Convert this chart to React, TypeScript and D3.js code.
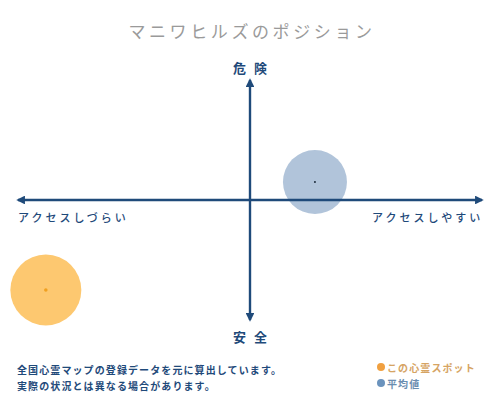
import { useEffect, useRef } from 'react';
import * as d3 from 'd3';

// chart data
const pointLabels = ['この心霊スポット', '平均値'];
const accessValues = [-88, 28]; // negative = hard to access, positive = easy
const dangerValues = [-75, 15]; // negative = safe, positive = dangerous

const titleText = 'マニワヒルズのポジション';
const axisTop = '危険';
const axisBottom = '安全';
const axisLeft = 'アクセスしづらい';
const axisRight = 'アクセスしやすい';
const noteLines = [
  '全国心霊マップの登録データを元に算出しています。',
  '実際の状況とは異なる場合があります。',
];

const FONT = '"Noto Sans CJK JP", "Noto Sans CJK SC", sans-serif';
const NAVY = '#1f4a7a';
const bubbleFill = ['#fdc870', '#b1c4da'];
const dotFill = ['#f0a020', '#1a2a3a'];
const bubbleR = [35.5, 32];
const legendFill = ['#f0a040', '#6b93bd'];
const legendText = ['#d6a463', '#6a8db0'];

export default function App() {
  const svgRef = useRef<SVGSVGElement>(null);

  useEffect(() => {
    document.body.style.margin = '0';
    if (!svgRef.current) return;

    const width = 500;
    const height = 400;
    const svg = d3.select(svgRef.current);
    svg.selectAll('*').remove();
    svg.append('rect').attr('width', width).attr('height', height).attr('fill', '#fff');

    const x = d3.scaleLinear().domain([-100, 100]).range([18, 482]);
    const y = d3.scaleLinear().domain([-100, 100]).range([320, 80]);

    const data = pointLabels.map((label, i) => ({
      label,
      access: accessValues[i],
      danger: dangerValues[i],
      i,
    }));

    // title
    svg
      .append('text')
      .attr('x', 252)
      .attr('y', 30)
      .attr('text-anchor', 'middle')
      .attr('dominant-baseline', 'central')
      .attr('font-family', FONT)
      .attr('font-size', 17)
      .attr('letter-spacing', 3.6)
      .attr('fill', '#9a9a9a')
      .text(titleText);

    // bubbles
    const pts = svg.append('g');
    pts
      .selectAll('circle.bubble')
      .data(data)
      .enter()
      .append('circle')
      .attr('class', 'bubble')
      .attr('cx', (d) => x(d.access))
      .attr('cy', (d) => y(d.danger))
      .attr('r', (d) => bubbleR[d.i])
      .attr('fill', (d) => bubbleFill[d.i]);

    // arrow marker
    const defs = svg.append('defs');
    defs
      .append('marker')
      .attr('id', 'arrow')
      .attr('viewBox', '0 0 10 10')
      .attr('refX', 8)
      .attr('refY', 5)
      .attr('markerWidth', 3.6)
      .attr('markerHeight', 3.6)
      .attr('orient', 'auto-start-reverse')
      .append('path')
      .attr('d', 'M0,0 L10,5 L0,10 Z')
      .attr('fill', NAVY);

    const axes = svg.append('g').attr('stroke', NAVY).attr('stroke-width', 2.4);
    axes
      .append('line')
      .attr('x1', x(-100))
      .attr('x2', x(100))
      .attr('y1', y(0))
      .attr('y2', y(0))
      .attr('marker-start', 'url(#arrow)')
      .attr('marker-end', 'url(#arrow)');
    axes
      .append('line')
      .attr('x1', x(0))
      .attr('x2', x(0))
      .attr('y1', y(100))
      .attr('y2', y(-100))
      .attr('marker-start', 'url(#arrow)')
      .attr('marker-end', 'url(#arrow)');

    // center dots
    pts
      .selectAll('circle.dot')
      .data(data)
      .enter()
      .append('circle')
      .attr('class', 'dot')
      .attr('cx', (d) => x(d.access))
      .attr('cy', (d) => y(d.danger))
      .attr('r', (d) => (d.i === 0 ? 1.8 : 1))
      .attr('fill', (d) => dotFill[d.i]);

    const label = (t: string, lx: number, ly: number, anchor: string, size: number, ls: number, fill: string, weight = 700) =>
      svg
        .append('text')
        .attr('x', lx)
        .attr('y', ly)
        .attr('text-anchor', anchor)
        .attr('dominant-baseline', 'central')
        .attr('font-family', FONT)
        .attr('font-size', size)
        .attr('font-weight', weight)
        .attr('letter-spacing', ls)
        .attr('fill', fill)
        .text(t);

    label(axisTop, 254, 67, 'middle', 13, 8, NAVY);
    label(axisBottom, 254, 336, 'middle', 13, 8, NAVY);
    label(axisLeft, 18, 217, 'start', 11, 3, NAVY, 500);
    label(axisRight, 372, 217, 'start', 11, 3, NAVY, 500);

    noteLines.forEach((t, i) => label(t, 17, 369 + i * 16, 'start', 10, 1.1, NAVY));

    // legend
    const legend = svg.append('g');
    data.forEach((d, i) => {
      const ly = 367 + i * 16;
      legend.append('circle').attr('cx', 381).attr('cy', ly).attr('r', 4).attr('fill', legendFill[i]);
      legend
        .append('text')
        .attr('x', 387)
        .attr('y', ly)
        .attr('dominant-baseline', 'central')
        .attr('font-family', FONT)
        .attr('font-size', 10)
        .attr('font-weight', 700)
        .attr('letter-spacing', 1.1)
        .attr('fill', legendText[i])
        .text(d.label);
    });
  }, []);

  return <svg ref={svgRef} width={500} height={400} style={{ display: 'block' }}></svg>;
}
